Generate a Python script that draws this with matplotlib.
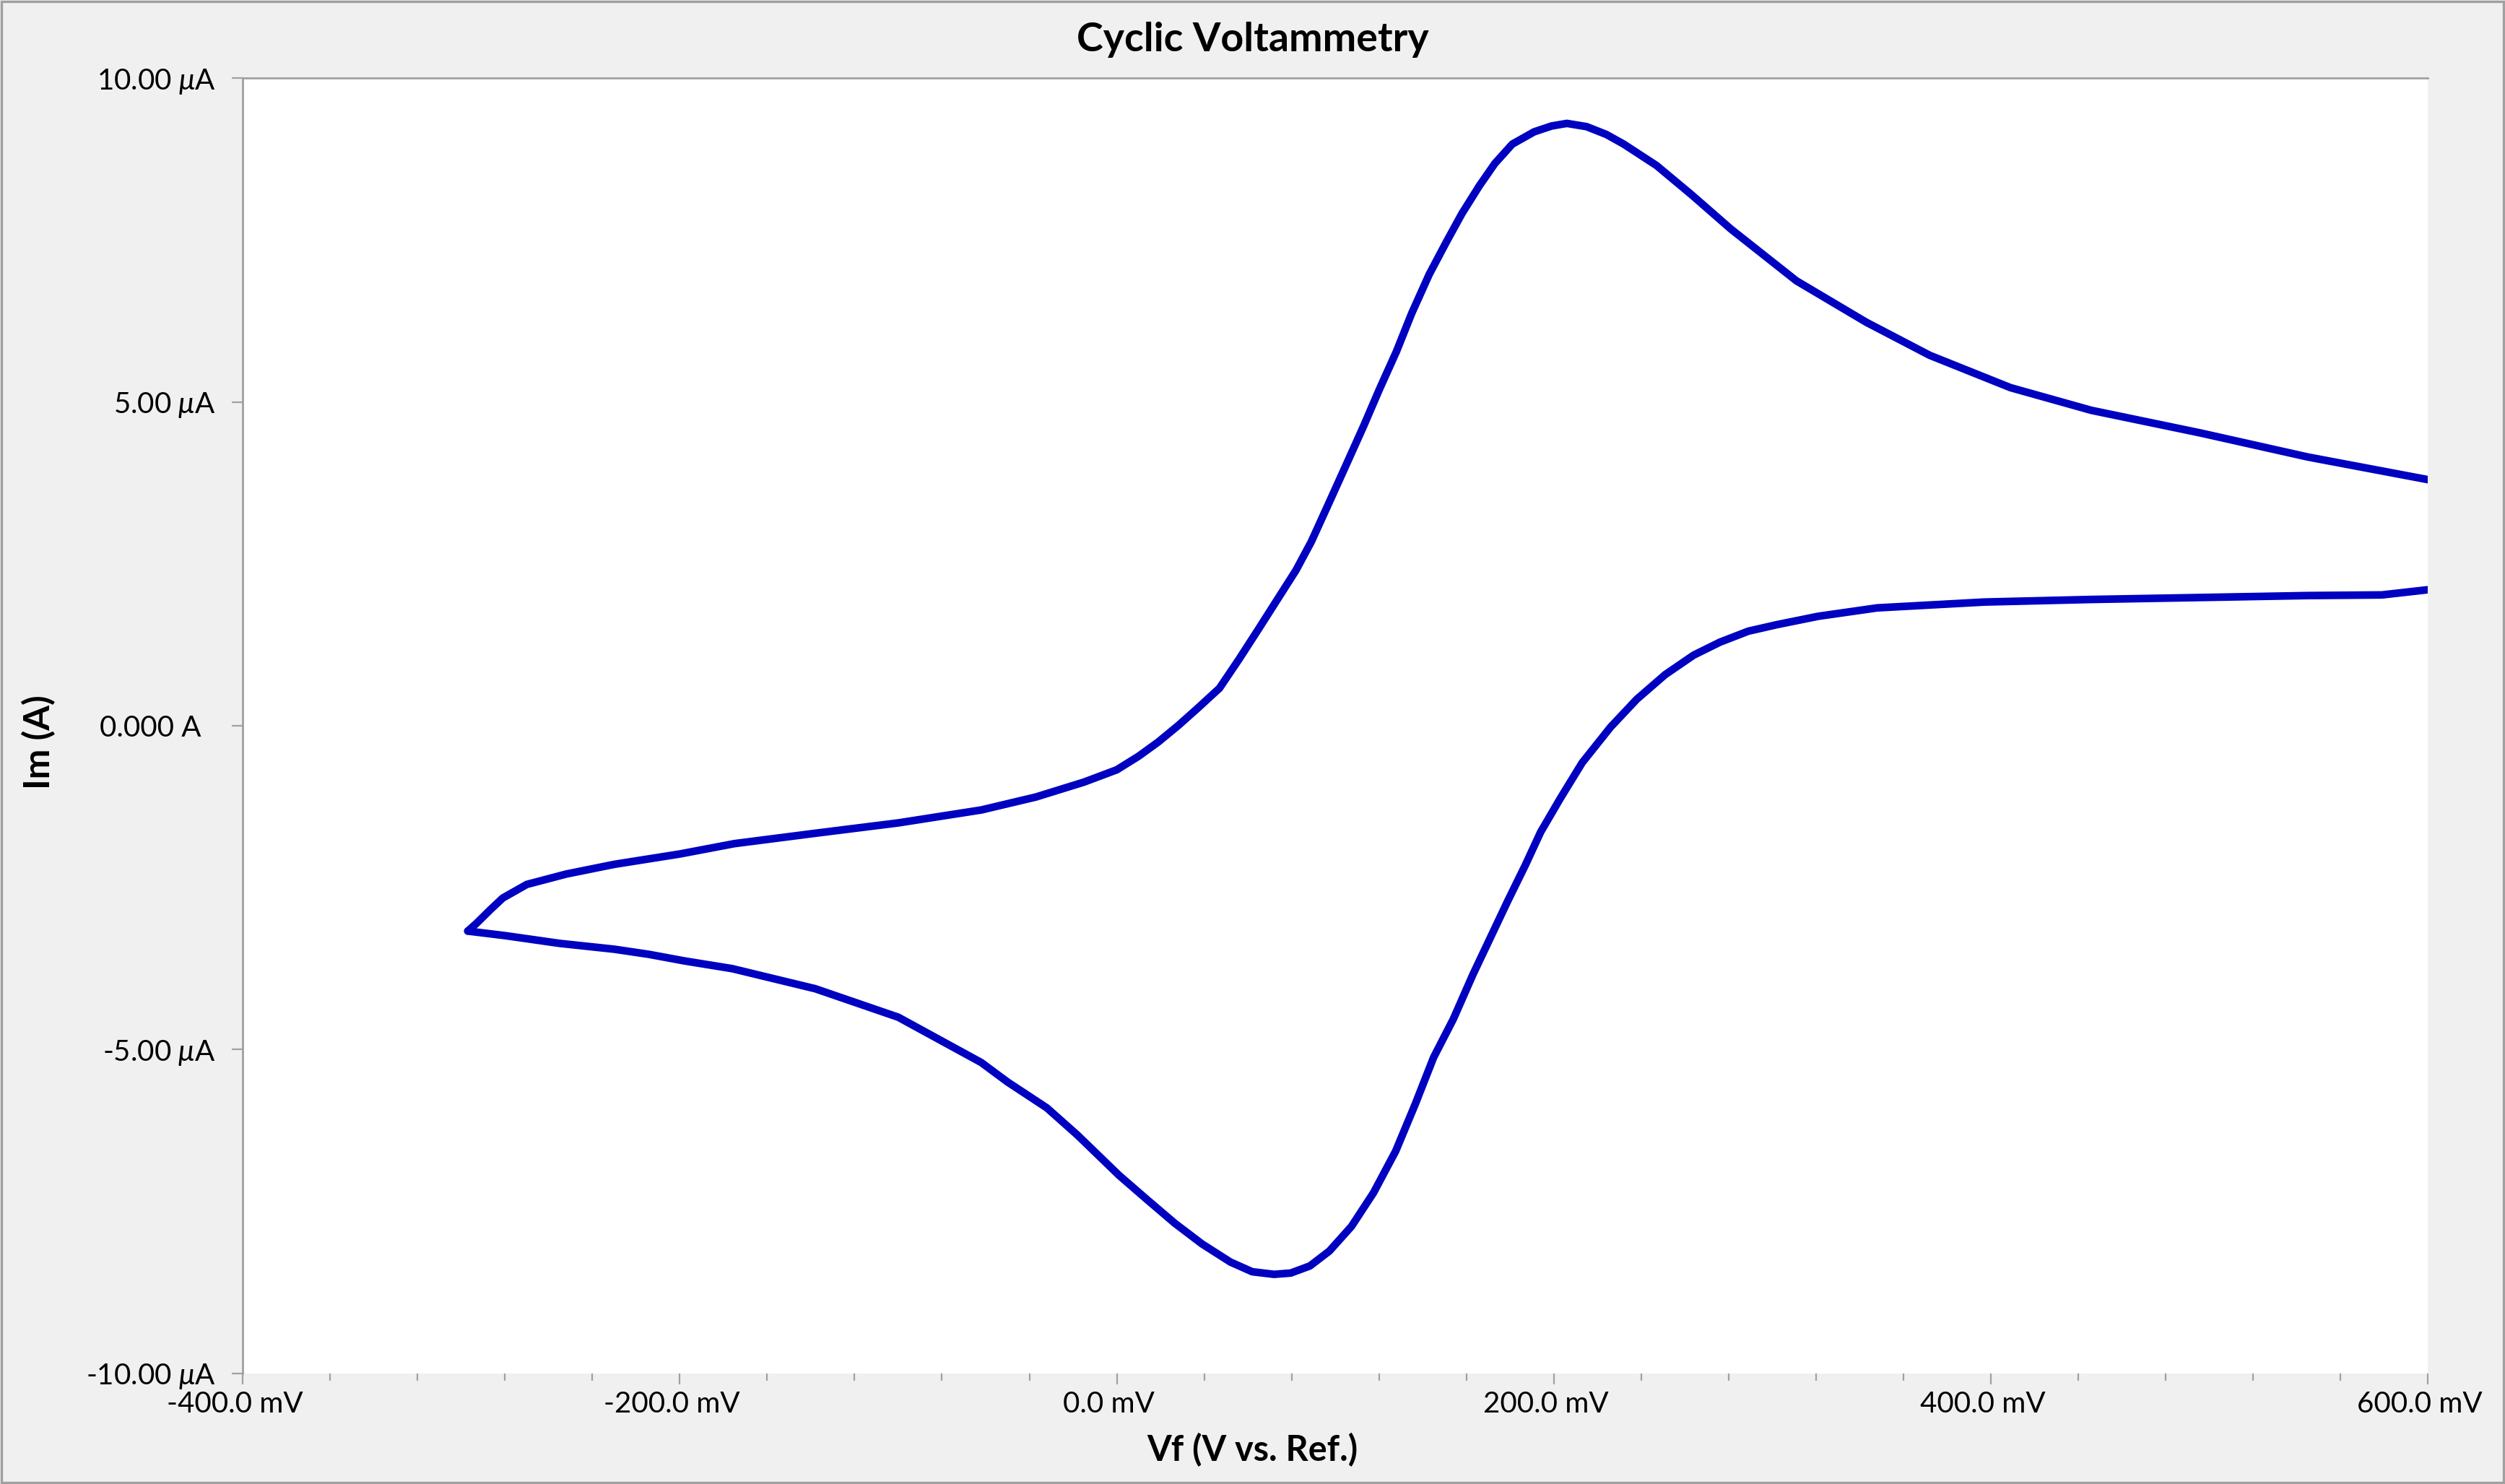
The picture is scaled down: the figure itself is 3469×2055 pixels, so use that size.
"""Cyclic voltammetry trace, Gamry-style plot."""

import matplotlib

matplotlib.use("Agg")
import matplotlib.pyplot as plt
from matplotlib.patches import Rectangle
from matplotlib.ticker import FuncFormatter, MultipleLocator
from matplotlib.transforms import ScaledTranslation

# forward (anodic) scan: potential in mV, current in uA
fwd_mv = [-297, -293, -287, -281, -270, -252, -230, -200, -175, -138, -100, -62,
          -37, -15, 0, 10, 19, 28, 37, 47, 56, 65, 82, 89, 97.5, 105, 113, 120,
          128, 135, 143, 151, 158, 166, 173, 181, 191, 199, 206, 215, 224, 232,
          247, 263, 281, 311, 343, 372, 409, 446, 496, 545, 600]
fwd_ua = [-3.17, -3.05, -2.85, -2.66, -2.45, -2.29, -2.14, -1.98, -1.82, -1.66,
          -1.50, -1.30, -1.10, -0.87, -0.68, -0.47, -0.25, 0.00, 0.27, 0.58, 1.03,
          1.50, 2.40, 2.84, 3.47, 4.03, 4.63, 5.18, 5.78, 6.37, 6.97, 7.48, 7.91,
          8.34, 8.68, 8.98, 9.17, 9.26, 9.30, 9.25, 9.13, 8.98, 8.65, 8.20, 7.67,
          6.87, 6.23, 5.72, 5.22, 4.87, 4.52, 4.15, 3.80]

# reverse (cathodic) scan
rev_mv = [600, 579, 545, 496, 446, 397, 348, 321, 302, 289, 276, 264, 251, 238,
          226, 213, 203, 194, 187, 179, 171, 163, 154, 145, 136.5, 127.6, 117.5,
          107.4, 97.3, 88.4, 79.6, 72, 62, 52, 39, 26.5, 14, 1, -18, -32, -50,
          -62, -81, -100, -138, -176, -198, -214, -230, -255, -280, -297]
rev_ua = [2.10, 2.02, 2.01, 1.98, 1.95, 1.91, 1.82, 1.69, 1.56, 1.46, 1.29, 1.09,
          0.79, 0.41, -0.02, -0.57, -1.12, -1.64, -2.15, -2.70, -3.27, -3.84,
          -4.53, -5.12, -5.85, -6.57, -7.21, -7.73, -8.11, -8.34, -8.45, -8.47,
          -8.43, -8.28, -8.00, -7.68, -7.32, -6.94, -6.32, -5.90, -5.50, -5.20,
          -4.85, -4.50, -4.06, -3.75, -3.63, -3.53, -3.45, -3.36, -3.24, -3.17]

BG = "#f0f0f0"
EDGE = "#a0a0a0"
TRACE = "#0000c0"

plt.rcParams["font.family"] = ["Lato", "DejaVu Sans"]
plt.rcParams["mathtext.fontset"] = "custom"
plt.rcParams["mathtext.rm"] = "Lato"
plt.rcParams["mathtext.it"] = "Lato:italic"

fig = plt.figure(figsize=(17.345, 10.275), dpi=200, facecolor=BG)
ax = fig.add_axes([0.0969, 0.0745, 0.8723, 0.8729])
ax.set_facecolor("white")

for xs, ys in ((fwd_mv, fwd_ua), (rev_mv, rev_ua)):
    ax.plot(xs, ys, color=TRACE, lw=3.8, solid_joinstyle="round",
            solid_capstyle="round")

ax.set_xlim(-400, 600)
ax.set_ylim(-10, 10)

ax.xaxis.set_major_locator(MultipleLocator(200))
ax.xaxis.set_minor_locator(MultipleLocator(40))
ax.yaxis.set_major_locator(MultipleLocator(5))
ax.xaxis.set_major_formatter(FuncFormatter(lambda v, _: f"{v:.1f} mV"))


def fmt_current(v, _):
    if abs(v) < 1e-9:
        return "0.000 A  "
    return f"{v:.2f} $\\mu$A"


ax.yaxis.set_major_formatter(FuncFormatter(fmt_current))

for side in ("right", "bottom"):
    ax.spines[side].set_visible(False)
for side in ("left", "top"):
    ax.spines[side].set_color(EDGE)
    ax.spines[side].set_linewidth(1.0)

ax.tick_params(axis="x", which="major", length=5.5, width=0.8, color=EDGE,
               pad=3, labelsize=14.5)
ax.tick_params(axis="x", which="minor", length=3.5, width=0.8, color=EDGE)
ax.tick_params(axis="y", which="major", length=5.5, width=0.8, color=EDGE,
               pad=8, labelsize=14.5)

# x labels sit a touch left of their ticks in the original
shift = ScaledTranslation(-4 / 72, 0, fig.dpi_scale_trans)
for lab in ax.get_xticklabels():
    lab.set_transform(lab.get_transform() + shift)

fig.text(0.5, 0.973, "Cyclic Voltammetry", ha="center", va="center",
         fontsize=20, fontweight="bold")
fig.text(0.5, 0.023, "Vf (V vs. Ref.)", ha="center", va="center",
         fontsize=17.5, fontweight="bold")
fig.text(0.0155, 0.5, "Im (A)", ha="center", va="center", rotation=90,
         fontsize=18, fontweight="bold")

fig.patches.append(Rectangle((0.0006, 0.001), 0.9988, 0.998,
                             transform=fig.transFigure, fill=False,
                             edgecolor=EDGE, lw=1.2))

fig.savefig("out.png", dpi=200, facecolor=BG)
